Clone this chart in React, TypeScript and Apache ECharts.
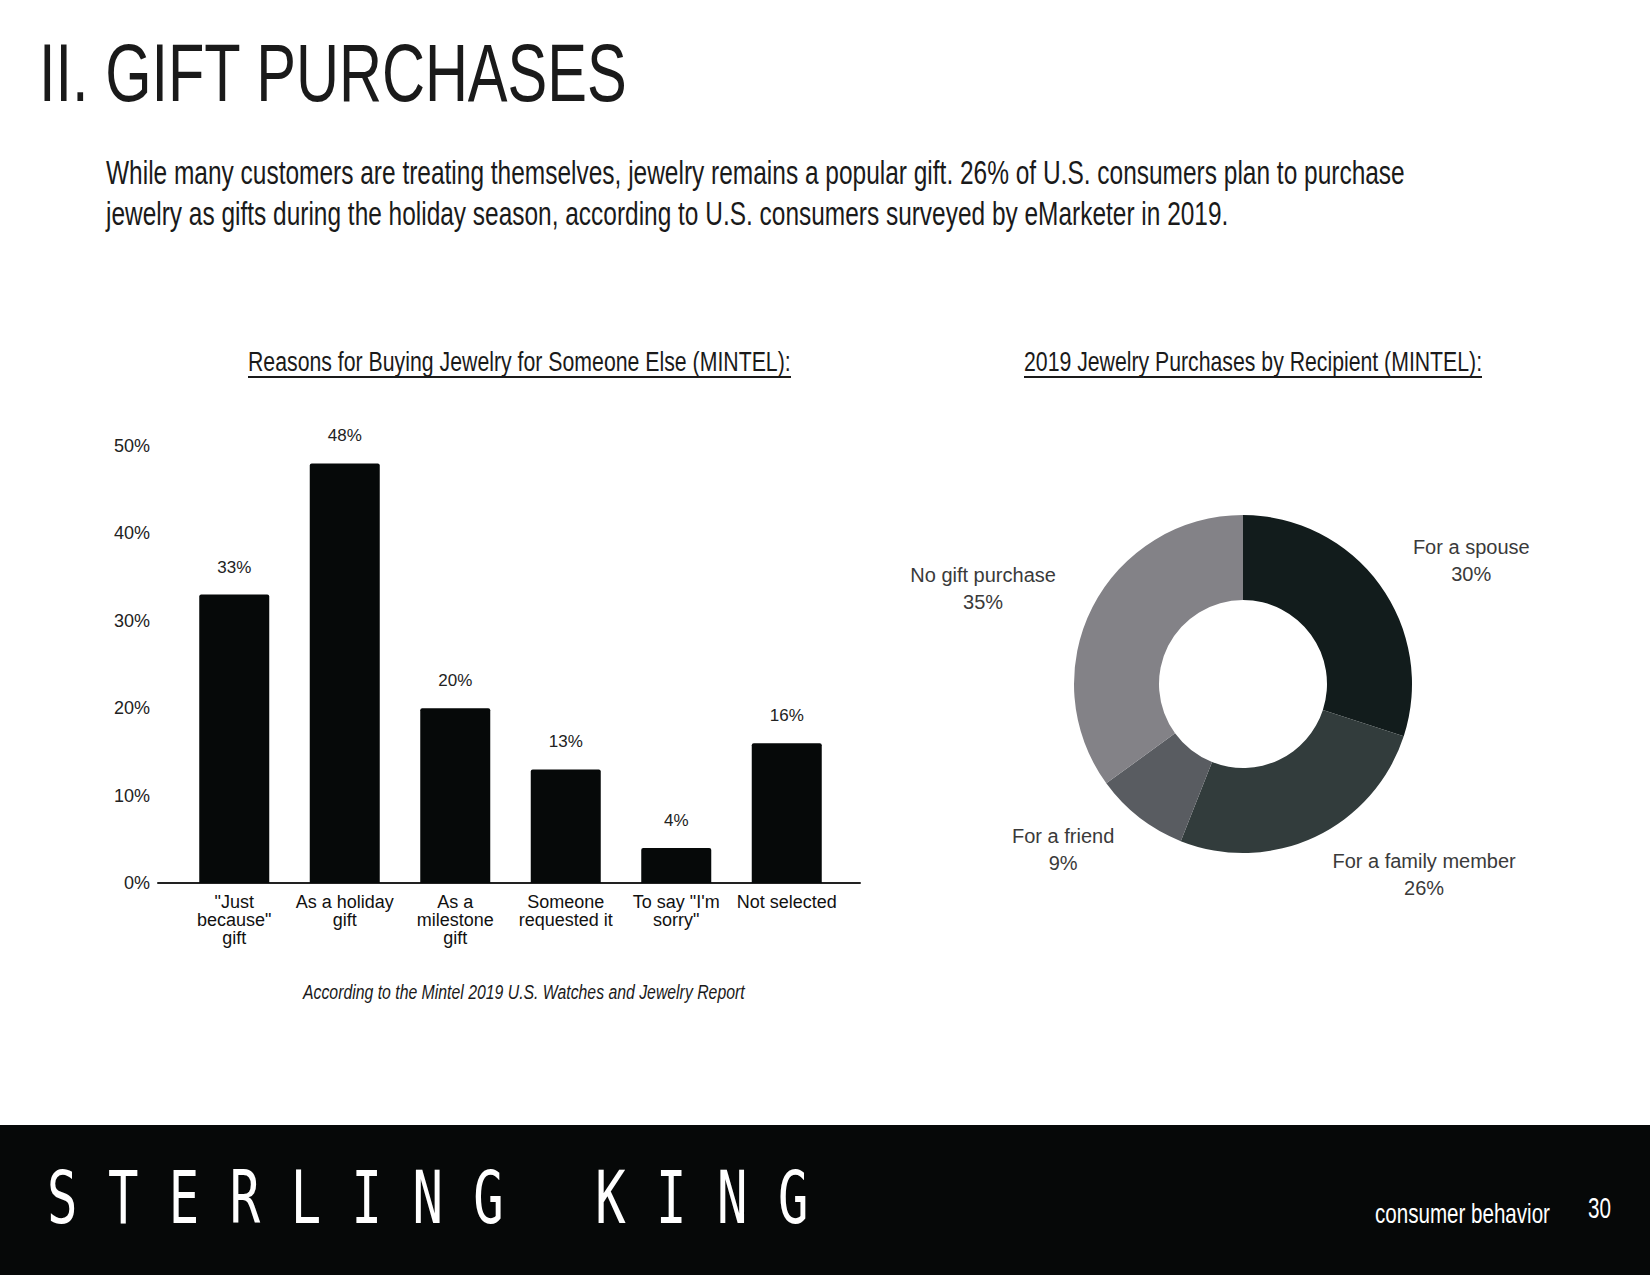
import React, { useEffect, useRef } from "react";
import * as echarts from "echarts";

// ---------- data ----------
const pageTitle = "II. GIFT PURCHASES";
const introLine1 =
  "While many customers are treating themselves, jewelry remains a popular gift. 26% of U.S. consumers plan to purchase";
const introLine2 =
  "jewelry as gifts during the holiday season, according to U.S. consumers surveyed by eMarketer in 2019.";
const barTitle = "Reasons for Buying Jewelry for Someone Else (MINTEL):";
const pieTitle = "2019 Jewelry Purchases by Recipient (MINTEL):";
const sourceNote = "According to the Mintel 2019 U.S. Watches and Jewelry Report";
const brandName = "S T E R L I N G   K I N G";
const footerSection = "consumer behavior";
const pageNumber = "30";

const barCategories = [
  '"Just\nbecause"\ngift',
  "As a holiday\ngift",
  "As a\nmilestone\ngift",
  "Someone\nrequested it",
  'To say "I\'m\nsorry"',
  "Not selected",
];
const barValues = [33, 48, 20, 13, 4, 16];
const yMin = 0;
const yMax = 50;
const yStep = 10;

const pieNames = ["For a spouse", "For a family member", "For a friend", "No gift purchase"];
const pieValues = [30, 26, 9, 35];
const pieColors = ["#121c1c", "#323c3c", "#595c61", "#838287"];

// ---------- helpers ----------
const SANS = '"Liberation Sans", Arial, sans-serif';
const MONO = '"DejaVu Sans Mono", monospace';

function measure(text: string, size: number, family: string, style = "normal", weight = "normal") {
  const ctx = document.createElement("canvas").getContext("2d")!;
  ctx.font = `${style} ${weight} ${size}px ${family}`;
  return ctx.measureText(text).width;
}

function fitText(
  text: string,
  x: number,
  y: number,
  width: number,
  size: number,
  fill: string,
  family = SANS,
  style = "normal",
  weight = "normal"
) {
  const w = measure(text, size, family, style, weight);
  return {
    type: "text",
    x,
    y,
    scaleX: width / w,
    z: 10,
    style: {
      text,
      fontSize: size,
      fontFamily: family,
      fontStyle: style,
      fontWeight: weight,
      fill,
      align: "left",
      verticalAlign: "middle",
    },
  };
}

export default function App() {
  const ref = useRef<HTMLDivElement>(null);

  useEffect(() => {
    document.body.style.margin = "0";
    const chart = echarts.init(ref.current!, undefined, { renderer: "svg" });

    const option: any = {
      animation: false,
      backgroundColor: "#ffffff",
      textStyle: { fontFamily: SANS },
      graphic: {
        elements: [
          { type: "rect", z: 1, shape: { x: 0, y: 1125, width: 1650, height: 150 }, style: { fill: "#060808" } },
          fitText(pageTitle, 39, 73, 589, 81, "#1a1a1a"),
          fitText(introLine1, 106, 172, 1299, 34, "#1a1a1a"),
          fitText(introLine2, 106, 213, 1122, 34, "#1a1a1a"),
          fitText(barTitle, 248, 361, 543, 28, "#1a1a1a"),
          { type: "line", z: 10, shape: { x1: 248, y1: 377, x2: 791, y2: 377 }, style: { stroke: "#1a1a1a", lineWidth: 2 } },
          fitText(pieTitle, 1024, 361, 458, 28, "#1a1a1a"),
          { type: "line", z: 10, shape: { x1: 1024, y1: 377, x2: 1482, y2: 377 }, style: { stroke: "#1a1a1a", lineWidth: 2 } },
          fitText(sourceNote, 303, 992, 442, 20, "#1a1a1a", SANS, "italic"),
          fitText(brandName, 47, 1198, 761, 73, "#ffffff", MONO),
          fitText(footerSection, 1375, 1213, 175, 28, "#ffffff"),
          fitText(pageNumber, 1588, 1208, 23, 29, "#ffffff"),
        ],
      },
      grid: [
        { left: 158, top: 446, width: 702, height: 437 },
        { left: 179, top: 446, width: 663, height: 437 },
      ],
      xAxis: [
        {
          gridIndex: 0,
          type: "category",
          data: [""],
          axisLine: { show: true, lineStyle: { color: "#222", width: 2 } },
          axisTick: { show: false },
          axisLabel: { show: false },
          splitLine: { show: false },
        },
        {
          gridIndex: 1,
          type: "category",
          data: barCategories,
          axisLine: { show: false },
          axisTick: { show: false },
          splitLine: { show: false },
          axisLabel: {
            interval: 0,
            margin: 10,
            fontSize: 18,
            lineHeight: 18,
            color: "#111",
            align: "center",
          },
        },
      ],
      yAxis: [
        {
          gridIndex: 0,
          type: "value",
          min: yMin,
          max: yMax,
          interval: yStep,
          axisLine: { show: false },
          axisTick: { show: false },
          splitLine: { show: false },
          axisLabel: { formatter: "{value}%", fontSize: 18, color: "#222", margin: 8 },
        },
        {
          gridIndex: 1,
          type: "value",
          min: yMin,
          max: yMax,
          interval: yStep,
          show: false,
        },
      ],
      series: [
        {
          type: "bar",
          xAxisIndex: 1,
          yAxisIndex: 1,
          data: barValues,
          barWidth: 70,
          itemStyle: { color: "#060909", borderRadius: [2, 2, 0, 0] },
          label: {
            show: true,
            position: "top",
            distance: 19,
            formatter: "{c}%",
            fontSize: 17,
            color: "#222",
          },
        },
        {
          type: "pie",
          center: [1243, 684],
          radius: [84, 169],
          startAngle: 90,
          clockwise: true,
          avoidLabelOverlap: false,
          data: pieNames.map((n, i) => ({ name: n, value: pieValues[i], itemStyle: { color: pieColors[i] } })),
          itemStyle: { borderWidth: 0 },
          label: {
            show: true,
            position: "outside",
            formatter: "{b}\n{c}%",
            fontSize: 20,
            lineHeight: 27,
            color: "#3a3a3a",
            distanceToLabelLine: 0,
          },
          labelLine: { show: false, length: 41, length2: 0 },
          labelLayout: (p: any) => ({
            x: p.labelRect.x + p.labelRect.width / 2,
            y: p.labelRect.y + p.labelRect.height / 2,
            align: "center",
            verticalAlign: "middle",
          }),
          emphasis: { disabled: true },
        },
      ],
    };

    chart.setOption(option);
    return () => chart.dispose();
  }, []);

  return (
    <div
      ref={ref}
      style={{ position: "absolute", left: 0, top: 0, width: 1650, height: 1275 }}
    />
  );
}
